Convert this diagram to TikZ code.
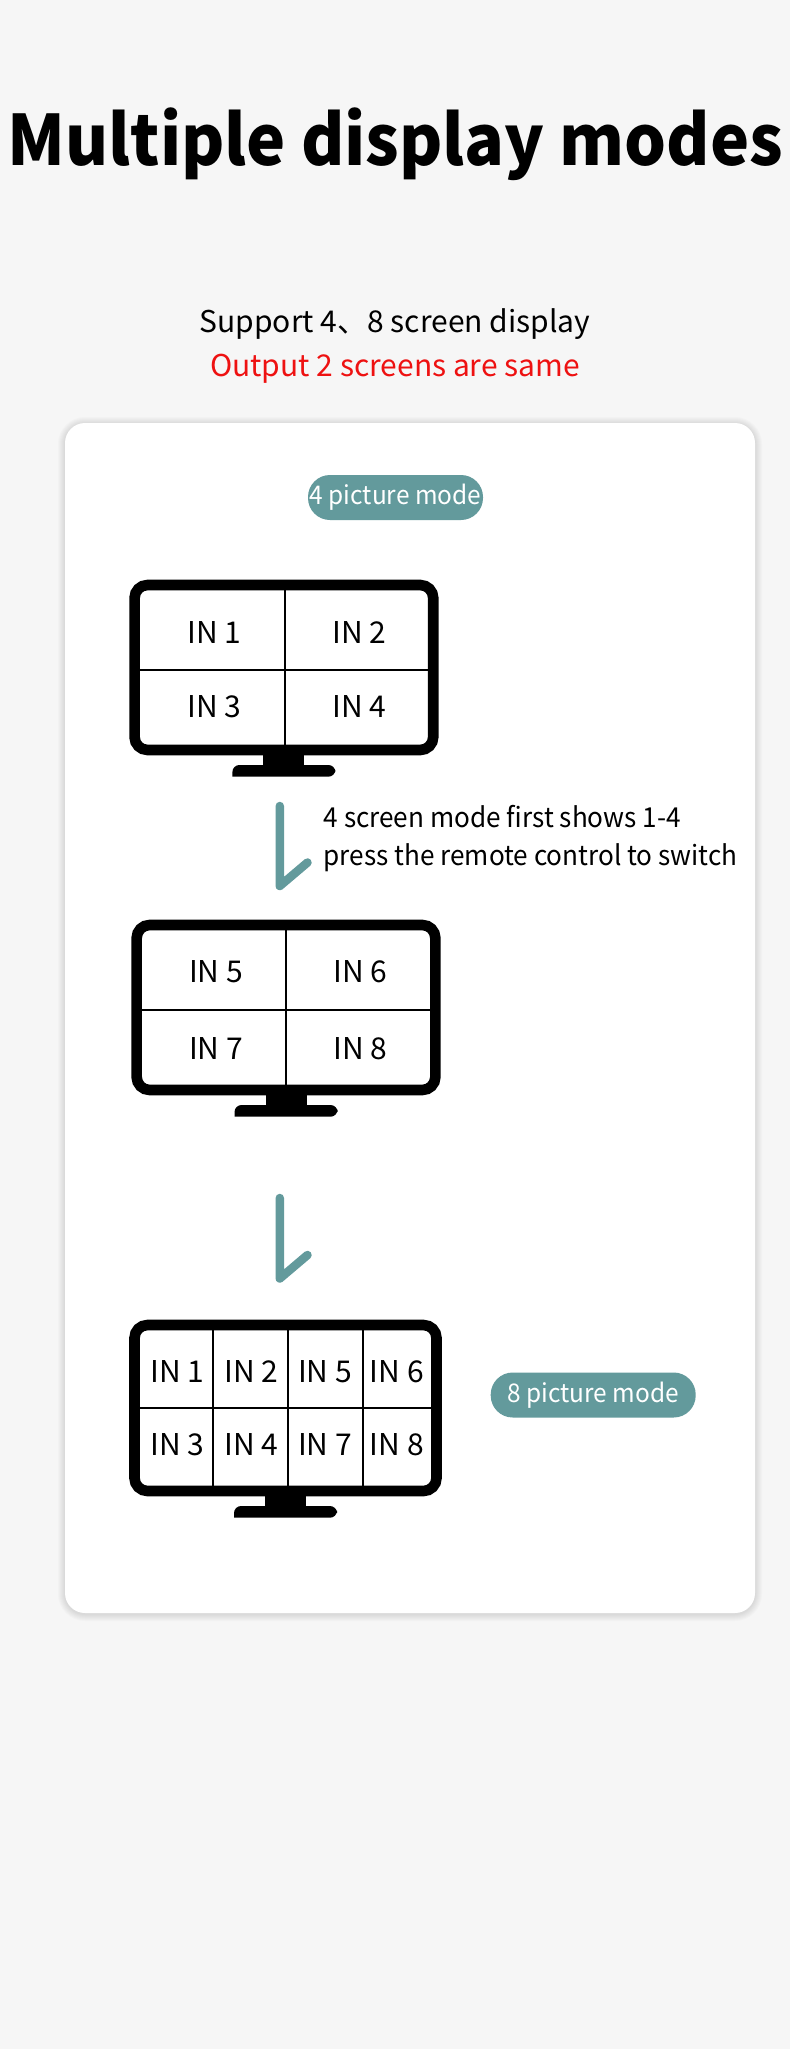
\documentclass[tikz,border=0pt]{standalone}
\usepackage{fontspec}
\setmainfont{Noto Sans CJK SC}
\newfontfamily\narrowfont[FakeStretch=0.95]{Noto Sans CJK SC}
\definecolor{pagegray}{HTML}{F6F6F6}
\definecolor{modeteal}{HTML}{639A9C}
\definecolor{noticered}{HTML}{EE1111}
\tikzstyle{card}=[fill=white,rounded corners=20pt]
\tikzstyle{halo}=[draw=black,rounded corners=20pt,opacity=0.016]
\tikzstyle{screen}=[draw=black,fill=white,line width=10.6pt,rounded corners=13pt,outer sep=0pt,inner sep=0pt]
\tikzstyle{divider}=[draw=black,line width=2pt]
\tikzstyle{stand}=[fill=black]
\tikzstyle{inlabel}=[anchor=base,inner sep=0pt,font=\fontsize{30}{36}\selectfont]
\tikzstyle{badge}=[fill=modeteal,text=white,rounded corners=22pt,minimum height=45pt,inner sep=0pt,font=\narrowfont\fontsize{25.7}{31}\selectfont]
\tikzstyle{hook}=[draw=modeteal,line width=8.5pt,line cap=round,line join=round]
\tikzstyle{hint}=[anchor=base west,inner sep=0pt,font=\narrowfont\fontsize{27.5}{33}\selectfont]
\tikzstyle{heading}=[anchor=base,inner sep=0pt,font=\fontsize{30}{36}\selectfont]

\begin{document}
\begin{tikzpicture}[x=1pt,y=-1pt]
    \useasboundingbox (0,0) rectangle (790,2049);
    \fill[pagegray] (0,0) rectangle (790,2049);
    % First we draw the titles
    \node[anchor=base,inner sep=0pt,font=\narrowfont\fontsize{69.5}{84}\selectfont\bfseries] (title) at (395.5,166) {Multiple display modes};
    \node[heading] (support) at (395,332) {Support 4、8 screen display};
    \node[heading,text=noticered] (output) at (395,376.5) {Output 2 screens are same};
    % Then the card with its soft edge
    \foreach \w in {2,4,...,14}
        \draw[halo,line width=\w pt] (65,424) rectangle (755,1614);
    \fill[card] (65,423) rectangle (755,1613);
    % Now the monitors
    \foreach \pos/\name/\wide/\high/\cross in {{(283.9,667.5)/mona/298.7/165/2}, {(286,1007.5)/monb/298.7/165/2}, {(285.5,1408)/monc/302/166/0}}{
        \node[screen,minimum width=\wide pt,minimum height=\high pt] (\name) at \pos {};
        \fill[stand,shift={(\name.south)}] (-20.5,0) rectangle (20.5,16);
        \fill[stand,shift={(\name.south)}] (-51.5,26.7) {[rounded corners=7pt] -- (-51.5,15) -- (51.5,15) -- (51.5,26.7)} -- cycle;
        \draw[divider] (\name.west) ++(0,\cross) -- ++(\wide,0);
    }
    % Connect top and bottom of the frames with the dividers
    \foreach \name/\offs in {mona/1, monb/0, monc/-72.7, monc/2.4, monc/77.4}
        \draw[divider] (\name.north) ++(\offs,0) -- ++(0,165);
    % Labels of the inputs
    \foreach \pos/\name/\txt in {{(214.5,643)/ina/IN 1}, {(359.5,643)/inb/IN 2}, {(214.5,717.7)/inc/IN 3}, {(359.5,717.7)/ind/IN 4},
        {(216,982.7)/ine/IN 5}, {(360.5,982.7)/inf/IN 6}, {(216,1059)/ing/IN 7}, {(360.5,1059)/inh/IN 8},
        {(177.4,1382)/ini/IN 1}, {(251.5,1382)/inj/IN 2}, {(325,1382)/ink/IN 5}, {(396.8,1382)/inl/IN 6},
        {(177.4,1455)/inm/IN 3}, {(251.5,1455)/inn/IN 4}, {(325,1455)/ino/IN 7}, {(396.8,1455)/inp/IN 8}}
        \node[inlabel] (\name) at \pos {\txt};
    % The two badges
    \node[badge,minimum width=175pt] (moda) at (395.5,497.5) {\raisebox{-1.5pt}{4 picture mode}};
    \node[badge,minimum width=205pt] (modb) at (593.2,1395) {\raisebox{-1.5pt}{8 picture mode}};
    % Hooks between the monitors
    \foreach \name/\top/\low/\tip in {hooka/806/886/862.5, hookb/1198/1278.5/1255}{
        \coordinate (\name t) at (279.8,\top);
        \coordinate (\name b) at (279.8,\low);
        \coordinate (\name e) at (307.5,\tip);
        \path[hook] (\name t) -- (\name b) -- (\name e);
    }
    \node[hint] (hinta) at (323.5,827) {4 screen mode first shows 1-4};
    \node[hint] (hintb) at (323.5,865) {press the remote control to switch};
\end{tikzpicture}
\end{document}
